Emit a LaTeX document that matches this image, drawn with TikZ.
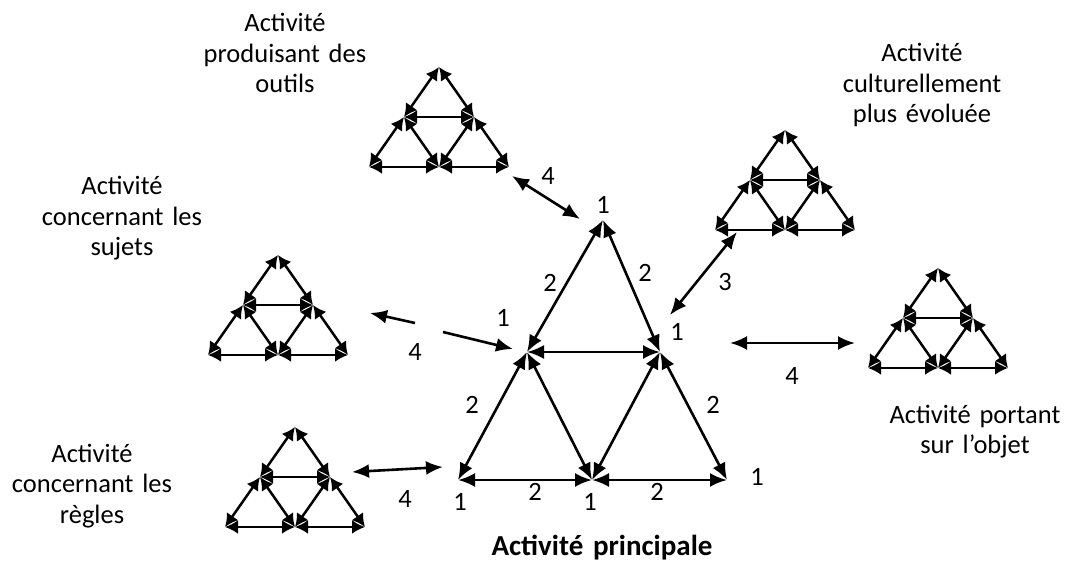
\documentclass[tikz,border=0pt]{standalone}
\usepackage{fontspec}
\setmainfont{Carlito}[WordSpace=0.75]
\usetikzlibrary{arrows.meta}

\tikzset{
  lbl/.style={text width=260bp,align=center,inner sep=0pt,anchor=base,
    font=\fontsize{26.5bp}{30.5bp}\selectfont},
  num/.style={inner sep=0pt,font=\fontsize{26.5bp}{30.5bp}\selectfont},
  rel/.style={<->,>={Latex[length=17bp,width=14bp]},line width=2.6bp},
  half/.style={->,>={Latex[length=17bp,width=14bp]},line width=2.6bp},
  smallrel/.style={<->,>={Latex[length=13bp,width=14bp]},line width=2.5bp},
  tri/.pic={
    \coordinate (-a) at (0,0);
    \coordinate (-ml) at (-35,50);
    \coordinate (-mr) at (35,50);
    \coordinate (-bl) at (-70,100);
    \coordinate (-bm) at (0,100);
    \coordinate (-br) at (70,100);
    \path[smallrel]
    (-a) edge (-ml) edge (-mr)
    (-ml) edge (-mr) edge (-bl) edge (-bm)
    (-mr) edge (-bm) edge (-br)
    (-bm) edge (-bl) edge (-br);
  }
}

\begin{document}
\begin{tikzpicture}[x=1bp,y=-1bp]
\useasboundingbox (0,0) rectangle (1068,563);

% activite principale
\coordinate (p-a) at (603,220);
\coordinate (p-ml) at (527,352);
\coordinate (p-mr) at (660,352);
\coordinate (p-bl) at (458,480);
\coordinate (p-bm) at (592,480);
\coordinate (p-br) at (727,480);
\path[rel]
(p-a) edge (p-ml) edge (p-mr)
(p-ml) edge (p-mr) edge (p-bl) edge (p-bm)
(p-mr) edge (p-bm) edge (p-br)
(p-bm) edge (p-bl) edge (p-br);

\node[num] (ka) at (603,205) {1};
\node[num] (kml) at (503,318) {1};
\node[num] (kmr) at (677,332) {1};
\node[num] (kbl) at (460,502) {1};
\node[num] (kbm) at (590,502) {1};
\node[num] (kbr) at (757,477) {1};
\node[num] (d1) at (550,283) {2};
\node[num] (d2) at (645,273) {2};
\node[num] (d3) at (472,405) {2};
\node[num] (d4) at (713,405) {2};
\node[num] (d5) at (535,492) {2};
\node[num] (d6) at (657,492) {2};

% les autres activites
\pic (outils) at (439,67) {tri};
\pic (cult) at (785,130) {tri};
\pic (sujets) at (278,255) {tri};
\pic (objet) at (938,268) {tri};
\pic (regles) at (295,427) {tri};

\node[lbl] (l-outils) at (285,32) {Activité\\produisant des\\outils};
\node[lbl] (l-cult) at (922,62) {Activité\\culturellement\\plus évoluée};
\node[lbl] (l-sujets) at (122,195) {Activité\\concernant les\\sujets};
\node[lbl] (l-regles) at (92,462) {Activité\\concernant les\\règles};
\node[lbl] (l-objet) at (975,423) {Activité portant\\sur l’objet};
\node[lbl,font=\fontsize{29bp}{33bp}\selectfont\bfseries] (l-princ) at (602,555) {Activité principale};

% liens
\coordinate (o1) at (512,176);
\coordinate (o2) at (580,219);
\coordinate (c1) at (737,232);
\coordinate (c2) at (670,315);
\coordinate (j1) at (730,343);
\coordinate (j2) at (855,343);
\coordinate (r1) at (352,472);
\coordinate (r2) at (443,467);
\coordinate (s1) at (370,313);
\coordinate (s2) at (415,323);
\coordinate (s3) at (443,332);
\coordinate (s4) at (513,349);
\draw[rel] (o1) -- (o2);
\draw[rel] (c1) -- (c2);
\draw[rel] (j1) -- (j2);
\draw[rel] (r1) -- (r2);
\draw[half] (s2) -- (s1);
\draw[half] (s3) -- (s4);

\node[num] (n-outils) at (548,176) {4};
\node[num] (n-cult) at (725,282) {3};
\node[num] (n-objet) at (792,376) {4};
\node[num] (n-sujets) at (415,352) {4};
\node[num] (n-regles) at (405,499) {4};
\end{tikzpicture}
\end{document}
